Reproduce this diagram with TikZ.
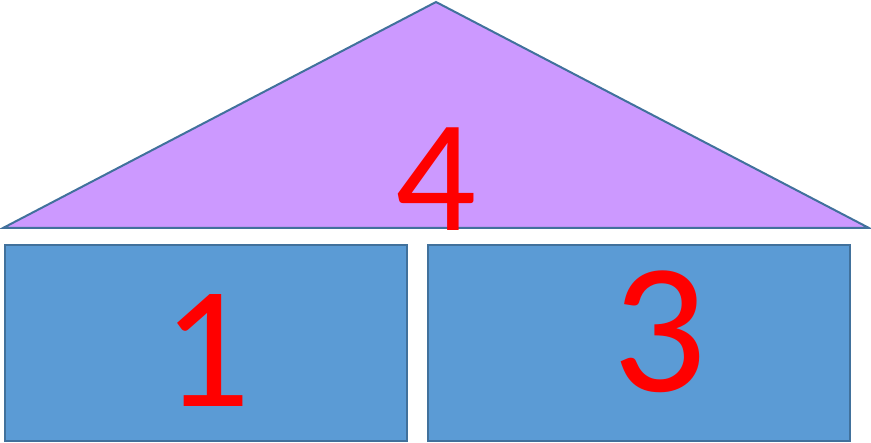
\documentclass[tikz,border=0pt]{standalone}
\usepackage{fontspec}
\setmainfont{Carlito}
\definecolor{roof}{HTML}{CC99FF}
\definecolor{wall}{HTML}{5B9BD5}
\definecolor{edge}{HTML}{41719C}
\begin{document}
\begin{tikzpicture}[x=1pt,y=-1pt,
  part/.style={draw=edge,line width=2pt},
  num/.style={text=red,inner sep=0pt}]
\useasboundingbox (0,0) rectangle (871,443);
\draw[part,fill=roof] (3,228) coordinate (bl) -- (436,2) coordinate (top) -- (869,228) coordinate (br) -- cycle;
\node[part,fill=wall,minimum width=402pt,minimum height=196pt,inner sep=0pt,anchor=north west] (r1) at (4,244) {};
\node[part,fill=wall,minimum width=422pt,minimum height=196pt,inner sep=0pt,anchor=north west] (r2) at (427,244) {};
\node[num,font=\fontsize{160}{160}\selectfont] (n4) at (436,179) {4};
\node[num,font=\fontsize{174}{174}\selectfont] (n1) at (207,351) {1};
\node[num,font=\fontsize{186}{186}\selectfont] (n3) at (660,332) {3};
\end{tikzpicture}
\end{document}
